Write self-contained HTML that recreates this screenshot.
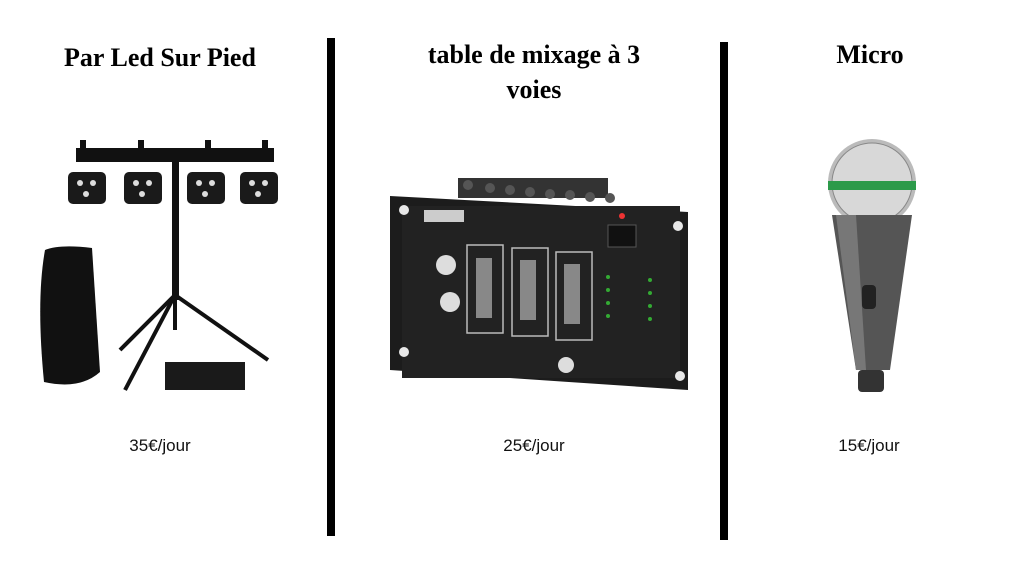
<!DOCTYPE html>
<html><head><meta charset="utf-8"><style>
html,body{margin:0;padding:0;background:#fff;}
body{width:1024px;height:576px;position:relative;overflow:hidden;}
.t{position:absolute;font-family:"Liberation Serif",serif;font-weight:bold;font-size:26px;color:#000;text-align:center;line-height:35px;}
.p{position:absolute;font-family:"Liberation Sans",sans-serif;font-size:17px;color:#111;text-align:center;width:200px;}
.bar{position:absolute;background:#000;width:8px;}
svg{position:absolute;left:0;top:0;}
</style></head><body>
<div class="t" style="left:40px;width:240px;top:40px;">Par Led Sur Pied</div>
<div class="t" style="left:384px;width:300px;top:37px;">table de mixage à 3<br>voies</div>
<div class="t" style="left:770px;width:200px;top:37px;">Micro</div>
<div class="bar" style="left:327px;top:38px;height:498px;"></div>
<div class="bar" style="left:720px;top:42px;height:498px;"></div>
<div class="p" style="left:60px;top:436px;">35€/jour</div>
<div class="p" style="left:434px;top:436px;">25€/jour</div>
<div class="p" style="left:769px;top:436px;">15€/jour</div>
<svg width="1024" height="576" viewBox="0 0 1024 576">
<!-- LED stand -->
<rect x="76" y="148" width="198" height="14" fill="#111"/>
<rect x="80" y="140" width="6" height="10" fill="#111"/><rect x="138" y="140" width="6" height="10" fill="#111"/><rect x="205" y="140" width="6" height="10" fill="#111"/><rect x="262" y="140" width="6" height="10" fill="#111"/>
<g fill="#1a1a1a">
<rect x="68" y="172" width="38" height="32" rx="5"/><rect x="124" y="172" width="38" height="32" rx="5"/><rect x="187" y="172" width="38" height="32" rx="5"/><rect x="240" y="172" width="38" height="32" rx="5"/>
</g>
<g fill="#ddd">
<circle cx="80" cy="183" r="3"/><circle cx="93" cy="183" r="3"/><circle cx="86" cy="194" r="3"/>
<circle cx="136" cy="183" r="3"/><circle cx="149" cy="183" r="3"/><circle cx="142" cy="194" r="3"/>
<circle cx="199" cy="183" r="3"/><circle cx="212" cy="183" r="3"/><circle cx="205" cy="194" r="3"/>
<circle cx="252" cy="183" r="3"/><circle cx="265" cy="183" r="3"/><circle cx="258" cy="194" r="3"/>
</g>
<rect x="172" y="160" width="7" height="140" fill="#111"/>
<g stroke="#111" stroke-width="4" fill="none">
<line x1="175" y1="295" x2="120" y2="350"/><line x1="175" y1="295" x2="268" y2="360"/><line x1="175" y1="295" x2="125" y2="390"/><line x1="175" y1="290" x2="175" y2="330"/>
</g>
<rect x="165" y="362" width="80" height="28" fill="#1a1a1a"/>
<path d="M45 250 Q60 244 92 248 L100 372 Q80 390 44 382 Q36 300 45 250Z" fill="#111"/>
<!-- Mixer -->
<path d="M390 196 L688 212 L688 390 L390 370 Z" fill="#1c1c1c"/>
<rect x="402" y="206" width="278" height="172" fill="#222"/>
<g fill="#333"><rect x="458" y="178" width="150" height="20"/></g>
<g fill="#555"><circle cx="468" cy="185" r="5"/><circle cx="490" cy="188" r="5"/><circle cx="510" cy="190" r="5"/><circle cx="530" cy="192" r="5"/><circle cx="550" cy="194" r="5"/><circle cx="570" cy="195" r="5"/><circle cx="590" cy="197" r="5"/><circle cx="610" cy="198" r="5"/></g>
<g fill="#e8e8e8"><circle cx="404" cy="210" r="5"/><circle cx="678" cy="226" r="5"/><circle cx="404" cy="352" r="5"/><circle cx="680" cy="376" r="5"/></g>
<rect x="424" y="210" width="40" height="12" fill="#ccc"/>
<g stroke="#bbb" fill="none" stroke-width="1.5"><rect x="467" y="245" width="36" height="88"/><rect x="512" y="248" width="36" height="88"/><rect x="556" y="252" width="36" height="88"/></g>
<g fill="#888"><rect x="476" y="258" width="16" height="60"/><rect x="520" y="260" width="16" height="60"/><rect x="564" y="264" width="16" height="60"/></g>
<g fill="#ddd"><circle cx="446" cy="265" r="10"/><circle cx="450" cy="302" r="10"/><circle cx="566" cy="365" r="8"/></g>
<rect x="608" y="225" width="28" height="22" fill="#111" stroke="#555"/>
<circle cx="622" cy="216" r="3" fill="#e33"/>
<g fill="#3a3"><circle cx="608" cy="277" r="2"/><circle cx="608" cy="290" r="2"/><circle cx="608" cy="303" r="2"/><circle cx="608" cy="316" r="2"/><circle cx="650" cy="280" r="2"/><circle cx="650" cy="293" r="2"/><circle cx="650" cy="306" r="2"/><circle cx="650" cy="319" r="2"/></g>
<!-- Micro -->
<ellipse cx="872" cy="183" rx="44" ry="44" fill="#bbb"/>
<ellipse cx="872" cy="183" rx="40" ry="40" fill="#d8d8d8" stroke="#888" stroke-width="1"/>
<rect x="828" y="181" width="88" height="9" fill="#2c9a4a"/>
<path d="M832 215 L912 215 L890 370 L856 370 Z" fill="#555"/>
<path d="M836 215 L856 215 L866 370 L856 370 Z" fill="#777"/>
<rect x="862" y="285" width="14" height="24" rx="4" fill="#222"/>
<rect x="858" y="370" width="26" height="22" rx="4" fill="#333"/>
</svg>
</body></html>
